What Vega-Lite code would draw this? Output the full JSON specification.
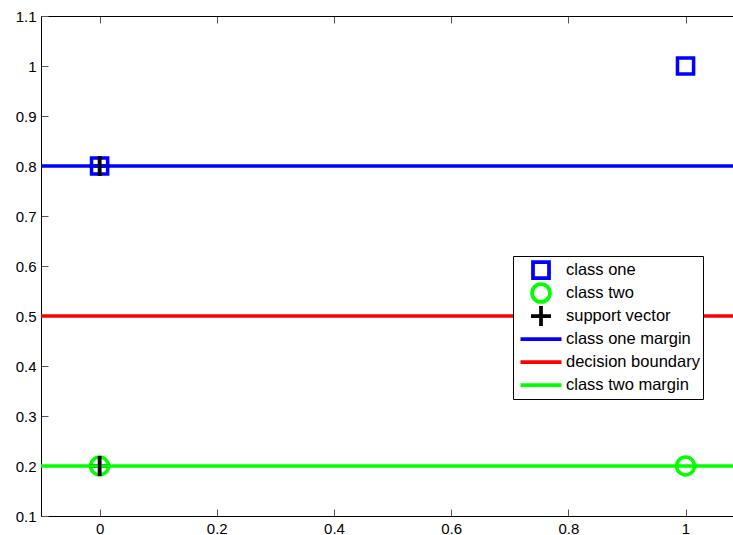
{
  "$schema": "https://vega.github.io/schema/vega-lite/v6.json",
  "width": 692,
  "height": 500,
  "autosize": {"type": "none"},
  "padding": {"left": 41, "top": 16, "right": 0, "bottom": 19},
  "background": "white",
  "config": {
    "view": {"stroke": null},
    "font": "Liberation Sans",
    "axis": {
      "grid": false,
      "tickSize": -7,
      "tickColor": "#555555",
      "tickWidth": 1,
      "domainColor": "#000000",
      "domainWidth": 1,
      "labelColor": "#000000",
      "labelFont": "Liberation Sans",
      "labelFontSize": 15,
      "labelPadding": 12,
      "title": null
    },
    "legend": {
      "orient": "none",
      "legendX": 472,
      "legendY": 240,
      "strokeColor": "#000000",
      "fillColor": "#ffffff",
      "padding": 2.5,
      "symbolSize": 1600,
      "symbolStrokeWidth": 3.5,
      "clipHeight": 23,
      "rowPadding": -0.1,
      "labelFont": "Liberation Sans",
      "labelFontSize": 16.5,
      "labelColor": "#000000",
      "labelOffset": 2.5,
      "symbolOffset": 3
    }
  },
  "datasets": {
    "points": [
      {"x": 0, "y": 0.8, "series": "class one"},
      {"x": 1, "y": 1.0, "series": "class one"},
      {"x": 0, "y": 0.2, "series": "class two"},
      {"x": 1, "y": 0.2, "series": "class two"},
      {"x": 0, "y": 0.8, "series": "support vector"},
      {"x": 0, "y": 0.2, "series": "support vector"}
    ],
    "lines": [
      {"y": 0.8, "series": "class one margin"},
      {"y": 0.5, "series": "decision boundary"},
      {"y": 0.2, "series": "class two margin"}
    ]
  },
  "resolve": {"axis": {"x": "independent"}},
  "layer": [
    {
      "data": {"name": "points"},
      "mark": {"type": "point", "filled": false, "strokeWidth": 3.5, "opacity": 1},
      "encoding": {
        "x": {"field": "x", "type": "quantitative", "title": null,
          "scale": {"domain": [-0.1, 1.081], "nice": false, "zero": false},
          "axis": {"orient": "bottom", "values": [0, 0.2, 0.4, 0.6, 0.8, 1], "format": "~g"}},
        "y": {"field": "y", "type": "quantitative", "title": null,
          "scale": {"domain": [0.1, 1.1], "nice": false, "zero": false},
          "axis": {"orient": "left", "values": [0.1, 0.2, 0.3, 0.4, 0.5, 0.6, 0.7, 0.8, 0.9, 1, 1.1], "format": "~g"}},
        "color": {"field": "series", "type": "nominal",
          "scale": {"domain": ["class one", "class two", "support vector", "class one margin", "decision boundary", "class two margin"],
                    "range": ["#0000ff", "#00ff00", "#000000", "#0000ff", "#ff0000", "#00ff00"]},
          "legend": {"title": null,
            "encode": {"symbols": {"update": {
              "size": {"signal": "datum.value === 'class one' ? 256 : datum.value === 'class two' ? 320 : datum.value === 'support vector' ? 400 : 1681"},
              "strokeWidth": {"value": 3.75},
              "fill": {"value": "transparent"}
            }}}}},
        "shape": {"field": "series", "type": "nominal",
          "scale": {"domain": ["class one", "class two", "support vector", "class one margin", "decision boundary", "class two margin"],
                    "range": ["square", "circle", "M-1,0H1M0,-1V1", "stroke", "stroke", "stroke"]},
          "legend": {"title": null,
            "encode": {"symbols": {"update": {
              "size": {"signal": "datum.value === 'class one' ? 256 : datum.value === 'class two' ? 320 : datum.value === 'support vector' ? 400 : 1681"},
              "strokeWidth": {"value": 3.75},
              "fill": {"value": "transparent"}
            }}}}},
        "size": {"condition": [
          {"test": "datum.series === 'class one'", "value": 260},
          {"test": "datum.series === 'class two'", "value": 320}
        ], "value": 400}
      }
    },
    {
      "data": {"name": "lines"},
      "mark": {"type": "rule", "strokeWidth": 3.5},
      "encoding": {
        "y": {"field": "y", "type": "quantitative", "title": null,
          "scale": {"domain": [0.1, 1.1], "nice": false, "zero": false}},
        "color": {"field": "series", "type": "nominal",
          "scale": {"domain": ["class one", "class two", "support vector", "class one margin", "decision boundary", "class two margin"],
                    "range": ["#0000ff", "#00ff00", "#000000", "#0000ff", "#ff0000", "#00ff00"]},
          "legend": {"title": null,
            "encode": {"symbols": {"update": {
              "size": {"signal": "datum.value === 'class one' ? 256 : datum.value === 'class two' ? 320 : datum.value === 'support vector' ? 400 : 1681"},
              "strokeWidth": {"value": 3.75},
              "fill": {"value": "transparent"}
            }}}}}
      }
    },
    {
      "data": {"name": "points"},
      "transform": [{"filter": "datum.series === 'support vector'"}],
      "mark": {"type": "point", "filled": false, "shape": "M0,-1V1", "size": 400, "strokeWidth": 3.5, "stroke": "#000000", "opacity": 1},
      "encoding": {
        "x": {"field": "x", "type": "quantitative", "title": null,
          "scale": {"domain": [-0.1, 1.081], "nice": false, "zero": false},
          "axis": {"orient": "top", "labels": false, "values": [0, 0.2, 0.4, 0.6, 0.8, 1]}},
        "y": {"field": "y", "type": "quantitative", "title": null,
          "scale": {"domain": [0.1, 1.1], "nice": false, "zero": false}}
      }
    }
  ]
}
